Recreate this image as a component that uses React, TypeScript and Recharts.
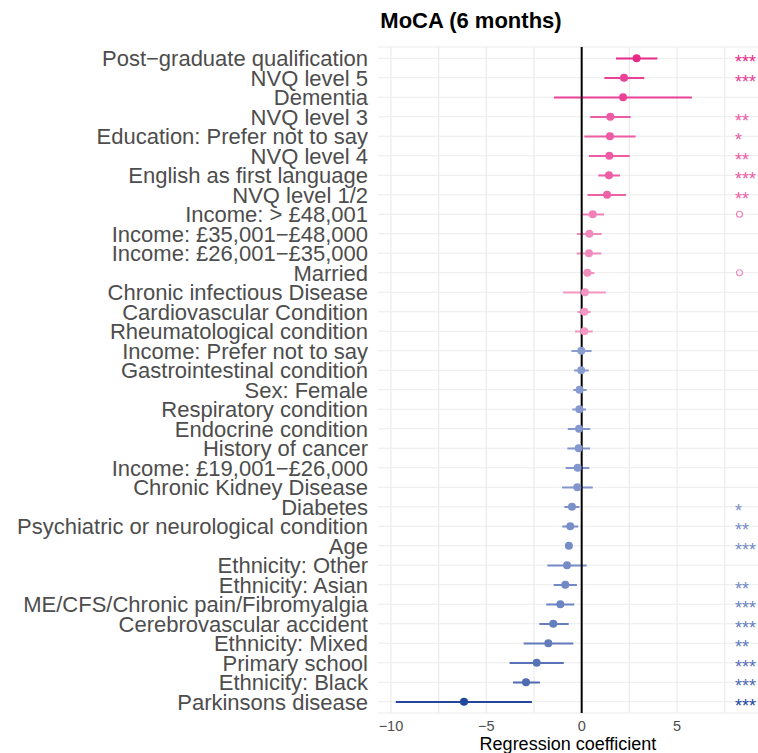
import {
  ComposedChart,
  Bar,
  Line,
  XAxis,
  YAxis,
  CartesianGrid,
  ReferenceLine,
} from "recharts";

const FONT = '"Liberation Sans", Arial, sans-serif';

const LABELS = [
  "Post−graduate qualification",
  "NVQ level 5",
  "Dementia",
  "NVQ level 3",
  "Education: Prefer not to say",
  "NVQ level 4",
  "English as first language",
  "NVQ level 1/2",
  "Income: > £48,001",
  "Income: £35,001−£48,000",
  "Income: £26,001−£35,000",
  "Married",
  "Chronic infectious Disease",
  "Cardiovascular Condition",
  "Rheumatological condition",
  "Income: Prefer not to say",
  "Gastrointestinal condition",
  "Sex: Female",
  "Respiratory condition",
  "Endocrine condition",
  "History of cancer",
  "Income: £19,001−£26,000",
  "Chronic Kidney Disease",
  "Diabetes",
  "Psychiatric or neurological condition",
  "Age",
  "Ethnicity: Other",
  "Ethnicity: Asian",
  "ME/CFS/Chronic pain/Fibromyalgia",
  "Cerebrovascular accident",
  "Ethnicity: Mixed",
  "Primary school",
  "Ethnicity: Black",
  "Parkinsons disease",
];

const COEF = [
  2.88, 2.22, 2.17, 1.5, 1.48, 1.45, 1.43, 1.33, 0.58, 0.4, 0.38, 0.3, 0.17,
  0.14, 0.14, -0.02, -0.03, -0.11, -0.12, -0.14, -0.16, -0.21, -0.23, -0.51,
  -0.6, -0.67, -0.77, -0.86, -1.12, -1.49, -1.75, -2.36, -2.92, -6.17,
];

const LOWER = [
  1.8, 1.19, -1.45, 0.45, 0.14, 0.38, 0.87, 0.31, 0.05, -0.25, -0.26, 0.09,
  -0.97, -0.23, -0.35, -0.54, -0.4, -0.44, -0.49, -0.73, -0.75, -0.84, -1.03,
  -0.91, -1.02, -0.86, -1.8, -1.47, -1.86, -2.22, -3.04, -3.78, -3.6, -9.75,
];

const UPPER = [
  3.97, 3.28, 5.78, 2.57, 2.83, 2.52, 2.01, 2.32, 1.17, 1.05, 1.03, 0.66, 1.27,
  0.47, 0.58, 0.52, 0.37, 0.26, 0.23, 0.45, 0.44, 0.4, 0.58, -0.12, -0.18,
  -0.51, 0.26, -0.25, -0.39, -0.68, -0.44, -0.94, -2.19, -2.61,
];

// "o" = p < 0.1
const STARS = [
  "***", "***", "", "**", "*", "**", "***", "**", "o", "", "", "o", "", "", "",
  "", "", "", "", "", "", "", "", "*", "**", "***", "", "**", "***", "***",
  "**", "***", "***", "***",
];

const X_TICKS = [-10, -5, 0, 5];
const GRID_X = [-10, -7.5, -5, -2.5, 0, 2.5, 5, 7.5];
const STAR_POS = 8.04;

function mix(a: string, b: string, t: number) {
  const pa = [1, 3, 5].map((i) => parseInt(a.slice(i, i + 2), 16));
  const pb = [1, 3, 5].map((i) => parseInt(b.slice(i, i + 2), 16));
  const c = pa.map((v, i) => Math.round(v + (pb[i] - v) * t));
  return `rgb(${c[0]},${c[1]},${c[2]})`;
}

function colorFor(v: number) {
  if (v >= 0) {
    const t = Math.min(1, v / 2.9);
    return mix("#f4a3c9", "#e7298a", Math.pow(t, 0.8));
  }
  const t = Math.min(1, -v / 6.2);
  return mix("#8c9fd2", "#23479d", Math.pow(t, 0.7));
}

const data = LABELS.map((name, i) => ({
  name,
  coef: COEF[i],
  ci: [LOWER[i], UPPER[i]],
  stars: STARS[i],
  color: colorFor(COEF[i]),
}));

function fmtTick(v: number) {
  return v < 0 ? `−${Math.abs(v)}` : String(v);
}

function YTick(props: any) {
  const { x, y, payload } = props;
  return (
    <text
      x={x}
      y={y}
      dy="0.36em"
      textAnchor="end"
      fontSize={22}
      fill="#4d4d4d"
      fontFamily={FONT}
    >
      {payload.value}
    </text>
  );
}

function CiShape(props: any) {
  const { x, y, width, height, payload } = props;
  const x1 = Math.min(x, x + width);
  const x2 = Math.max(x, x + width);
  const cy = y + height / 2;
  return (
    <line x1={x1} x2={x2} y1={cy} y2={cy} stroke={payload.color} strokeWidth={2} />
  );
}

function renderDot(p: any) {
  return (
    <circle key={`d${p.index}`} cx={p.cx} cy={p.cy} r={4} fill={p.payload.color} />
  );
}

function renderStar(p: any) {
  const s = p.payload.stars;
  if (!s) return <g key={`s${p.index}`} />;
  if (s === "o") {
    return (
      <circle
        key={`s${p.index}`}
        cx={p.cx + 4.5}
        cy={p.cy}
        r={3}
        fill="none"
        stroke={p.payload.color}
        strokeWidth={1.2}
      />
    );
  }
  return (
    <text
      key={`s${p.index}`}
      x={p.cx}
      y={p.cy + 10}
      fontSize={18}
      fill={p.payload.color}
      fontFamily={FONT}
    >
      {s}
    </text>
  );
}

export default function App() {
  return (
    <div
      style={{
        position: "absolute",
        left: 0,
        top: 0,
        width: 758,
        height: 753,
        background: "#fff",
        fontFamily: FONT,
      }}
    >
      <ComposedChart
        width={758}
        height={753}
        data={data}
        layout="vertical"
        margin={{ top: 47, right: 0, bottom: 0, left: 0 }}
      >
        <CartesianGrid stroke="#ebebeb" strokeWidth={1.2} verticalValues={GRID_X} />
        <XAxis
          type="number"
          domain={[-10.68, 9.245]}
          allowDataOverflow
          ticks={X_TICKS}
          tickFormatter={fmtTick}
          axisLine={false}
          tickLine={false}
          tickSize={0}
          tickMargin={8}
          height={40}
          tick={{ fontSize: 14.5, fill: "#4d4d4d", fontFamily: FONT }}
        />
        <YAxis
          type="category"
          dataKey="name"
          width={378}
          interval={0}
          axisLine={false}
          tickLine={false}
          tickSize={0}
          tickMargin={10}
          padding={{ top: 1.5, bottom: 1.5 }}
          tick={<YTick />}
        />
        <Bar
          dataKey="ci"
          barSize={2}
          shape={<CiShape />}
          isAnimationActive={false}
        />
        <Line
          dataKey="coef"
          stroke="none"
          dot={renderDot}
          activeDot={false}
          isAnimationActive={false}
        />
        <Line
          dataKey={() => STAR_POS}
          stroke="none"
          dot={renderStar}
          activeDot={false}
          isAnimationActive={false}
        />
        <ReferenceLine x={0} stroke="#000" strokeWidth={2} />
      </ComposedChart>
      <svg
        width={758}
        height={753}
        style={{ position: "absolute", left: 0, top: 0, pointerEvents: "none" }}
      >
        <text x={471} y={28} textAnchor="middle" fontSize={22} fontWeight="bold" fill="#000" fontFamily={FONT}>
          MoCA (6 months)
        </text>
        <text x={568} y={750} textAnchor="middle" fontSize={18} fill="#000" fontFamily={FONT}>
          Regression coefficient
        </text>
      </svg>
    </div>
  );
}
